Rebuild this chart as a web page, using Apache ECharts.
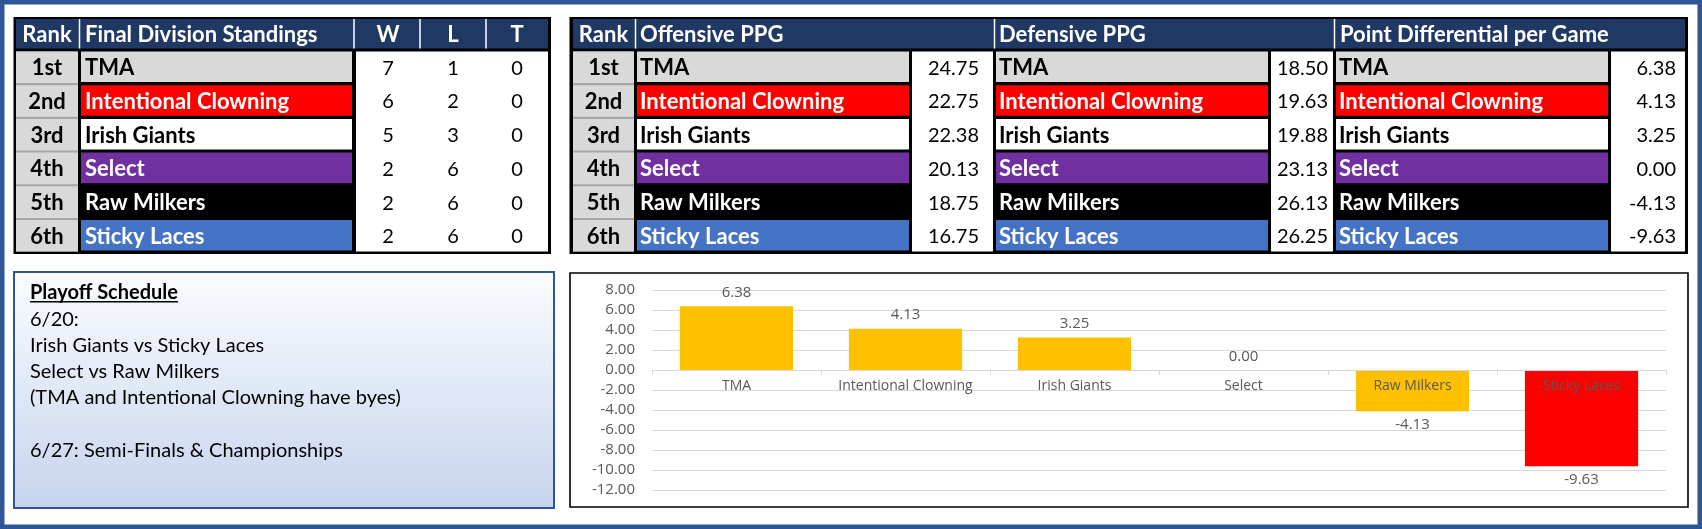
<!DOCTYPE html>
<html><head><meta charset="utf-8">
<script src="https://cdn.jsdelivr.net/npm/echarts@6/dist/echarts.min.js"></script>
<style>html,body{margin:0;padding:0;background:#fff;}#c{width:1702px;height:529px;}</style>
</head><body><div id="c"></div>
<script>
// ---------- data ----------
const ranks = ['1st','2nd','3rd','4th','5th','6th'];
const teams = ['TMA','Intentional Clowning','Irish Giants','Select','Raw Milkers','Sticky Laces'];
const wins = [7,6,5,2,2,2];
const losses = [1,2,3,6,6,6];
const ties = [0,0,0,0,0,0];
const offensivePPG = [24.75,22.75,22.38,20.13,18.75,16.75];
const defensivePPG = [18.50,19.63,19.88,23.13,26.13,26.25];
const pointDiffPerGame = [6.38,4.13,3.25,0.00,-4.13,-9.63];
const standingsHeaders = ['Rank','Final Division Standings','W','L','T'];
const statsHeaders = ['Rank','Offensive PPG','Defensive PPG','Point Differential per Game'];
const yAxisTicks = [-12,-10,-8,-6,-4,-2,0,2,4,6,8];
const scheduleTitle = 'Playoff Schedule';
const scheduleLines = ['6/20:','Irish Giants vs Sticky Laces','Select vs Raw Milkers','(TMA and Intentional Clowning have byes)','','6/27: Semi-Finals & Championships'];

// ---------- styles ----------
const teamStyle = {
  'TMA':['#D9D9D9','#000000'],
  'Intentional Clowning':['#FF0000','#FFFFFF'],
  'Irish Giants':['#FFFFFF','#000000'],
  'Select':['#7030A0','#FFFFFF'],
  'Raw Milkers':['#000000','#FFFFFF'],
  'Sticky Laces':['#4472C4','#FFFFFF']
};
const FONT = 'Lato';
const NAVY = '#1F3864';
const g = [];
function rect(x,y,w,h,fill,extra){ g.push(Object.assign({type:'rect',silent:true,shape:{x:x,y:y,width:w,height:h},style:{fill:fill}},extra||{})); }
function text(x,y,str,o){ o=o||{}; g.push({type:'text',silent:true,x:x,y:y,style:{text:String(str),fill:o.fill||'#000',fontSize:o.size||20,fontFamily:o.family||FONT,fontWeight:o.weight||'normal',align:o.align||'left',verticalAlign:'middle'}}); }

// frame
g.push({type:'rect',silent:true,shape:{x:0,y:0,width:1702,height:529},style:{fill:'none',stroke:'#2F5597',lineWidth:9}});

const ry0 = 51.5, pitch = 33.7, rhName = 30.6, rhRank = 31.6, hy0 = 19, hy1 = 48.5;
const rowY = i => ry0 + i*pitch;
const rowsBottom = rowY(5) + rhRank;
const HS = 22, NS = 22, VS = 20;

// ---------- left table ----------
(function(){
  const x0=13.5,x1=551,y0=17,y1=254;
  const cols=[[16,78],[81,352],[356,420],[420,486],[486,548]];
  rect(x0,y0,x1-x0,y1-y0,'#000');
  rect(cols[0][0],hy0,cols[4][1]-cols[0][0],hy1-hy0,NAVY);
  [79.5,354,420,486].forEach(x=>rect(x-0.75,hy0,1.5,hy1-hy0,'#FFFFFF'));
  const hc=(hy0+hy1)/2+1.5;
  text((cols[0][0]+cols[0][1])/2,hc,standingsHeaders[0],{fill:'#fff',weight:'bold',align:'center',size:HS});
  text(cols[1][0]+4,hc,standingsHeaders[1],{fill:'#fff',weight:'bold',size:HS});
  for(let k=2;k<5;k++) text((cols[k][0]+cols[k][1])/2,hc,standingsHeaders[k],{fill:'#fff',weight:'bold',align:'center',size:HS});
  rect(cols[0][0],ry0,cols[0][1]-cols[0][0],rowsBottom-ry0,'#A6A6A6');
  rect(cols[2][0],ry0,cols[4][1]-cols[2][0],rowsBottom-ry0,'#FFFFFF');
  teams.forEach((t,i)=>{
    const y=rowY(i), cy=y+rhName/2+1.5;
    rect(cols[0][0],y,cols[0][1]-cols[0][0],rhRank,'#D9D9D9');
    text((cols[0][0]+cols[0][1])/2,cy,ranks[i],{weight:'bold',align:'center',size:NS});
    rect(cols[1][0],y,cols[1][1]-cols[1][0],rhName,teamStyle[t][0]);
    text(cols[1][0]+4,cy,t,{weight:'bold',fill:teamStyle[t][1],size:NS});
    text((cols[2][0]+cols[2][1])/2,cy,wins[i],{align:'center',size:VS});
    text((cols[3][0]+cols[3][1])/2,cy,losses[i],{align:'center',size:VS});
    text((cols[4][0]+cols[4][1])/2,cy,ties[i],{align:'center',size:VS});
  });
})();

// ---------- right table ----------
(function(){
  const x0=569.5,x1=1688,y0=17,y1=254;
  const cols=[[573,634],[637,909],[912,993],[996,1268],[1271,1333],[1336,1608],[1611,1685]];
  rect(x0,y0,x1-x0,y1-y0,'#000');
  rect(cols[0][0],hy0,cols[6][1]-cols[0][0],hy1-hy0,NAVY);
  [635.5,994.5,1334.5].forEach(x=>rect(x-0.75,hy0,1.5,hy1-hy0,'#FFFFFF'));
  const hc=(hy0+hy1)/2+1.5;
  text((cols[0][0]+cols[0][1])/2,hc,statsHeaders[0],{fill:'#fff',weight:'bold',align:'center',size:HS});
  text(cols[1][0]+3,hc,statsHeaders[1],{fill:'#fff',weight:'bold',size:HS});
  text(cols[3][0]+3,hc,statsHeaders[2],{fill:'#fff',weight:'bold',size:HS});
  text(cols[5][0]+4,hc,statsHeaders[3],{fill:'#fff',weight:'bold',size:HS});
  rect(cols[0][0],ry0,cols[0][1]-cols[0][0],rowsBottom-ry0,'#A6A6A6');
  [2,4,6].forEach(k=>rect(cols[k][0],ry0,cols[k][1]-cols[k][0],rowsBottom-ry0,'#FFFFFF'));
  const stats=[offensivePPG,defensivePPG,pointDiffPerGame];
  const pads=[14,5,9];
  teams.forEach((t,i)=>{
    const y=rowY(i), cy=y+rhName/2+1.5;
    rect(cols[0][0],y,cols[0][1]-cols[0][0],rhRank,'#D9D9D9');
    text((cols[0][0]+cols[0][1])/2,cy,ranks[i],{weight:'bold',align:'center',size:NS});
    for(let s=0;s<3;s++){
      const nc=cols[1+2*s], vc=cols[2+2*s];
      rect(nc[0],y,nc[1]-nc[0],rhName,teamStyle[t][0]);
      text(nc[0]+3,cy,t,{weight:'bold',fill:teamStyle[t][1],size:NS});
      text(vc[1]-pads[s],cy,stats[s][i].toFixed(2),{align:'right',size:VS});
    }
  });
})();

// ---------- schedule box ----------
(function(){
  g.push({type:'rect',silent:true,shape:{x:14,y:272,width:540,height:236},
    style:{fill:{type:'linear',x:0,y:0,x2:0,y2:1,colorStops:[{offset:0,color:'#FBFCFE'},{offset:1,color:'#C6D4EE'}]},stroke:'#2F5597',lineWidth:2}});
  const tx=30, ty=293, lp=26.2;
  text(tx,ty,scheduleTitle,{weight:'bold'});
  const ctx=document.createElement('canvas').getContext('2d');
  ctx.font='bold 20px '+FONT;
  const w=ctx.measureText(scheduleTitle).width;
  rect(tx,ty+8,w,1.6,'#000');
  scheduleLines.forEach((l,i)=>{ if(l) text(tx,ty+lp*(i+1),l); });
})();

// chart box
g.push({type:'rect',silent:true,shape:{x:570,y:273,width:1118,height:234},style:{fill:'none',stroke:'#000',lineWidth:1.6}});

// ---------- chart ----------
const chart = echarts.init(document.getElementById('c'), null, {renderer:'canvas'});
const lastIdx = teams.length-1;
const yMin = yAxisTicks[0], yMax = yAxisTicks[yAxisTicks.length-1];
chart.setOption({
  animation:false,
  graphic:g,
  grid:{left:652,right:36,top:290,bottom:39,containLabel:false},
  xAxis:{type:'category',data:teams,z:3,
    axisLine:{onZero:false,lineStyle:{color:'#D9D9D9',width:1.2}},
    axisTick:{show:true,length:5,lineStyle:{color:'#D9D9D9'}},
    axisLabel:{interval:0,color:'#595959',fontSize:14,fontFamily:'Open Sans',margin:9}},
  yAxis:{type:'value',min:yMin,max:yMax,interval:yAxisTicks[1]-yAxisTicks[0],
    axisLine:{show:false},axisTick:{show:false},
    splitLine:{lineStyle:{color:'#D9D9D9',width:1.2}},
    axisLabel:{color:'#595959',fontSize:15,fontFamily:'Open Sans',margin:17,formatter:v=>v.toFixed(2)}},
  series:[{type:'bar',barCategoryGap:'33%',
    data:pointDiffPerGame.map((v,i)=>({value:v,
      itemStyle:{color:i===lastIdx?'#FF0000':'#FFC000'},
      label:{position:v<0?'bottom':'top'}})),
    label:{show:true,distance:6,color:'#595959',fontSize:15,fontFamily:'Open Sans',formatter:p=>p.value.toFixed(2)}}]
});
// move the category axis (line, ticks and labels) to the zero value, using the library's own scale
const zeroPx = chart.convertToPixel({yAxisIndex:0}, 0);
const minPx = chart.convertToPixel({yAxisIndex:0}, yMin);
chart.setOption({xAxis:{offset:-(minPx-zeroPx)}});
</script></body></html>
